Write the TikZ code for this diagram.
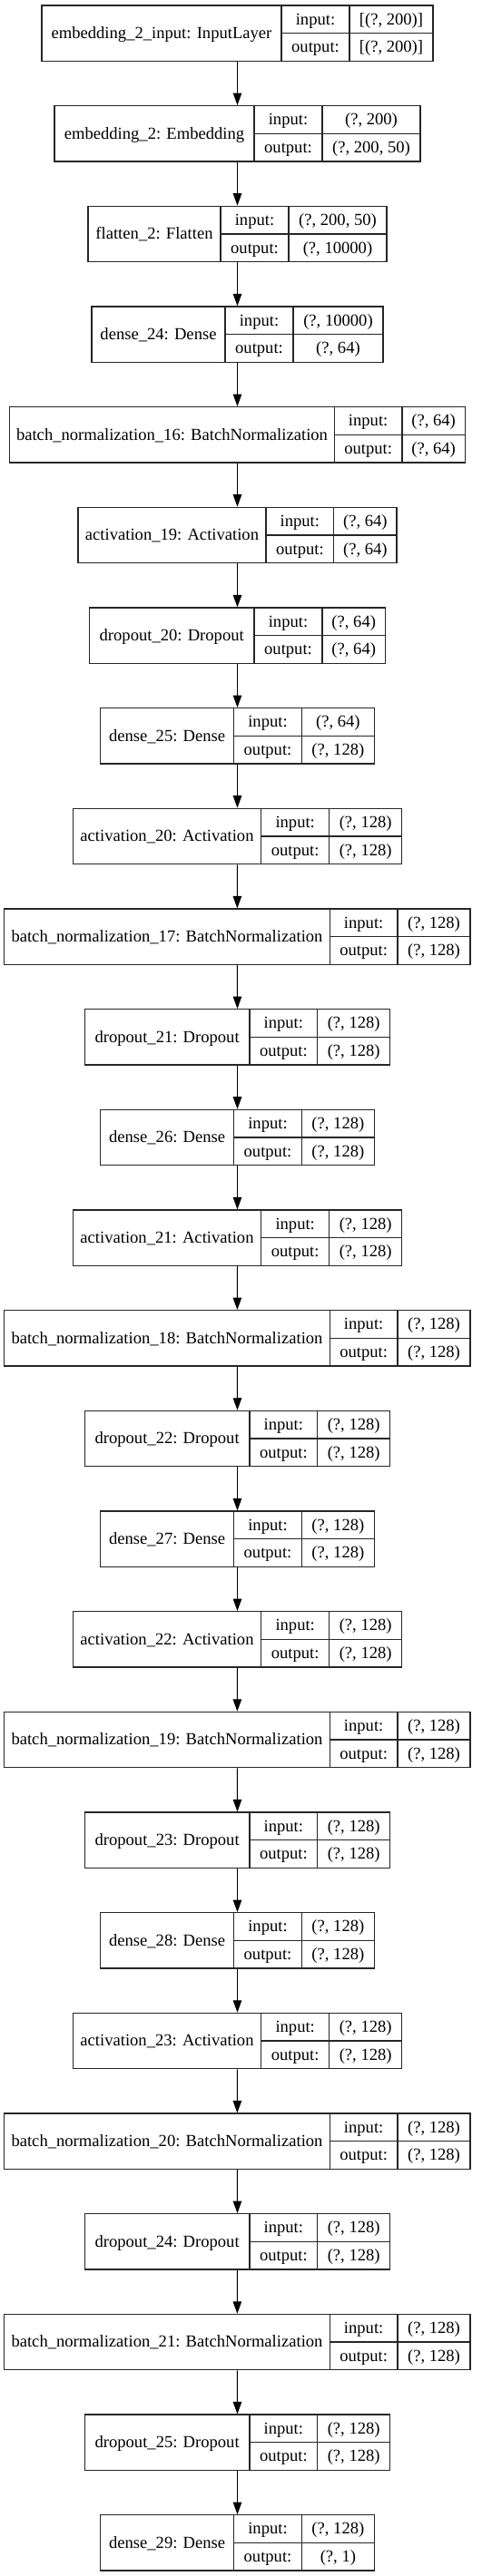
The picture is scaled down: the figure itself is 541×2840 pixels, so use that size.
\documentclass[tikz,border=0pt]{standalone}
\usepackage{fontspec}
\setmainfont{Liberation Serif}
\usetikzlibrary{arrows.meta}
\newcommand{\fsz}{\fontsize{18.6pt}{22pt}\selectfont}
\tikzset{
  boxframe/.style={draw=black!85, line width=1.3pt, inner sep=0pt},
  cellline/.style={draw=black!85, line width=1.3pt},
  lbl/.style={font=\fsz, anchor=base, inner sep=0pt, text=black},
  arr/.style={-{Triangle[length=13.5pt,width=9.5pt]}, line width=1pt, draw=black}
}
% #1 index, #2 label, #3 x1, #4 x2, #5 d1, #6 d2, #7 input, #8 output
\newcommand{\layer}[8]{%
  \pgfmathsetmacro\bxTop{6+110.67*#1}%
  \pgfmathsetmacro\bxBot{\bxTop+61.3}%
  \pgfmathsetmacro\bxMid{\bxTop+30.65}%
  \pgfmathsetmacro\bxWid{#4-#3}%
  \pgfmathsetmacro\bxCx{(#3+#4)/2}%
  \node[boxframe, minimum width=\bxWid pt, minimum height=61.3pt] (L#1) at (\bxCx,\bxMid) {};
  \draw[cellline] (#5,\bxTop) -- (#5,\bxBot);
  \draw[cellline] (#6,\bxTop) -- (#6,\bxBot);
  \draw[cellline] (#5,\bxMid) -- (#4,\bxMid);
  \node[lbl] (N#1) at ({(#3+#5)/2},{\bxMid+5.8}) {#2};
  \node[lbl] (I#1) at ({(#5+#6)/2},{\bxTop+15.33+5.8}) {input:};
  \node[lbl] (O#1) at ({(#5+#6)/2},{\bxMid+15.33+5.8}) {output:};
  \node[lbl] (IV#1) at ({(#6+#4)/2},{\bxTop+15.33+5.8}) {#7};
  \node[lbl] (OV#1) at ({(#6+#4)/2},{\bxMid+15.33+5.8}) {#8};
}
\begin{document}
\begin{tikzpicture}[x=1pt,y=-1pt]
\useasboundingbox[fill=white] (0,0) rectangle (541,2840);
\layer{0}{embedding\_2\_input: InputLayer}{46}{477}{310}{385}{[(?, 200)]}{[(?, 200)]}
\layer{1}{embedding\_2: Embedding}{60}{463}{280}{355}{(?, 200)}{(?, 200, 50)}
\layer{2}{flatten\_2: Flatten}{97}{426}{243}{318}{(?, 200, 50)}{(?, 10000)}
\layer{3}{dense\_24: Dense}{101}{422}{248}{323}{(?, 10000)}{(?, 64)}
\layer{4}{batch\_normalization\_16: BatchNormalization}{10.7}{512.3}{368.3}{443}{(?, 64)}{(?, 64)}
\layer{5}{activation\_19: Activation}{86}{437}{293}{367.7}{(?, 64)}{(?, 64)}
\layer{6}{dropout\_20: Dropout}{98.5}{424.5}{280}{355}{(?, 64)}{(?, 64)}
\layer{7}{dense\_25: Dense}{110.5}{412.5}{257.7}{332.3}{(?, 64)}{(?, 128)}
\layer{8}{activation\_20: Activation}{80.3}{442.7}{287.7}{362.7}{(?, 128)}{(?, 128)}
\layer{9}{batch\_normalization\_17: BatchNormalization}{4.7}{518}{363.3}{438}{(?, 128)}{(?, 128)}
\layer{10}{dropout\_21: Dropout}{93.3}{429.7}{275}{349.7}{(?, 128)}{(?, 128)}
\layer{11}{dense\_26: Dense}{110.5}{412.5}{257.7}{332.3}{(?, 128)}{(?, 128)}
\layer{12}{activation\_21: Activation}{80.3}{442.7}{287.7}{362.7}{(?, 128)}{(?, 128)}
\layer{13}{batch\_normalization\_18: BatchNormalization}{4.7}{518}{363.3}{438}{(?, 128)}{(?, 128)}
\layer{14}{dropout\_22: Dropout}{93.3}{429.7}{275}{349.7}{(?, 128)}{(?, 128)}
\layer{15}{dense\_27: Dense}{110.5}{412.5}{257.7}{332.3}{(?, 128)}{(?, 128)}
\layer{16}{activation\_22: Activation}{80.3}{442.7}{287.7}{362.7}{(?, 128)}{(?, 128)}
\layer{17}{batch\_normalization\_19: BatchNormalization}{4.7}{518}{363.3}{438}{(?, 128)}{(?, 128)}
\layer{18}{dropout\_23: Dropout}{93.3}{429.7}{275}{349.7}{(?, 128)}{(?, 128)}
\layer{19}{dense\_28: Dense}{110.5}{412.5}{257.7}{332.3}{(?, 128)}{(?, 128)}
\layer{20}{activation\_23: Activation}{80.3}{442.7}{287.7}{362.7}{(?, 128)}{(?, 128)}
\layer{21}{batch\_normalization\_20: BatchNormalization}{4.7}{518}{363.3}{438}{(?, 128)}{(?, 128)}
\layer{22}{dropout\_24: Dropout}{93.3}{429.7}{275}{349.7}{(?, 128)}{(?, 128)}
\layer{23}{batch\_normalization\_21: BatchNormalization}{4.7}{518}{363.3}{438}{(?, 128)}{(?, 128)}
\layer{24}{dropout\_25: Dropout}{93.3}{429.7}{275}{349.7}{(?, 128)}{(?, 128)}
\layer{25}{dense\_29: Dense}{110.5}{412.5}{257.7}{332.3}{(?, 128)}{(?, 1)}
\foreach \i in {0,...,24}{
  \pgfmathtruncatemacro\j{\i+1}
  \draw[arr] (L\i.south) -- (L\j.north);
}
\end{tikzpicture}
\end{document}
